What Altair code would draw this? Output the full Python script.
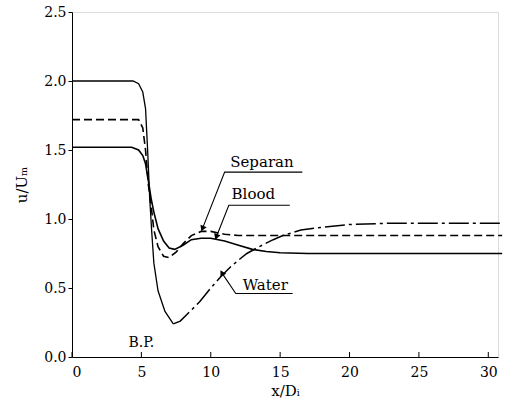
import altair as alt
import pandas as pd

# Blood (solid, starts at 1.5)
x_blood = [0, 4.3, 4.8, 5.1, 5.3, 5.5, 5.7, 5.9, 6.2, 6.6, 7.0, 7.4, 8.0, 8.6, 9.3, 10.0, 11.0, 12.0, 13.0, 14.0, 15.0, 17.0, 31.0]
y_blood = [1.52, 1.52, 1.50, 1.46, 1.40, 1.28, 1.15, 1.05, 0.93, 0.84, 0.79, 0.78, 0.81, 0.85, 0.86, 0.86, 0.84, 0.81, 0.78, 0.765, 0.755, 0.75, 0.75]

# Separan (dashed, starts at 1.72)
x_sep = [0, 4.8, 5.1, 5.3, 5.5, 5.7, 5.9, 6.2, 6.6, 7.0, 7.5, 8.0, 8.6, 9.3, 10.0, 11.0, 12.0, 31.0]
y_sep = [1.72, 1.72, 1.66, 1.50, 1.25, 1.10, 0.92, 0.80, 0.73, 0.72, 0.76, 0.82, 0.88, 0.91, 0.91, 0.89, 0.88, 0.88]

# Water (starts at 2.0): first part solid, rising part dash-dot
x_water1 = [0, 4.4, 4.8, 5.1, 5.3, 5.45, 5.6, 5.75, 5.9, 6.2, 6.7, 7.3]
y_water1 = [2.0, 2.0, 1.98, 1.92, 1.80, 1.50, 1.15, 0.90, 0.68, 0.48, 0.33, 0.24]
x_water2 = [7.3, 7.8, 8.3, 9.2, 10.0, 10.7, 11.5, 12.1, 12.6, 13.5, 14.5, 15.2, 16.5, 18.0, 20.0, 23.0, 31.0]
y_water2 = [0.24, 0.26, 0.31, 0.40, 0.50, 0.58, 0.66, 0.71, 0.75, 0.80, 0.85, 0.88, 0.92, 0.94, 0.96, 0.97, 0.97]

x_ticks = [0, 5, 10, 15, 20, 25, 30]
y_ticks = [0.0, 0.5, 1.0, 1.5, 2.0, 2.5]

# annotation leaders: tip -> elbow -> end
lab_names = ["Separan", "Blood", "Water"]
lab_tip_x = [9.4, 10.4, 10.8]
lab_tip_y = [0.93, 0.87, 0.61]
lab_elbow_x = [11.0, 11.3, 11.8]
lab_line_y = [1.34, 1.10, 0.46]
lab_end_x = [16.6, 15.7, 15.9]
lab_text_x = [11.4, 11.5, 12.3]
lab_text_y = [1.41, 1.18, 0.52]
lab_angle = [203, 200, 330]

FONT = "DejaVu Serif"

xs = alt.Scale(domain=[0, 30.7], nice=False, zero=False)
ys = alt.Scale(domain=[0, 2.5], nice=False)

def series(xv, yv):
    return pd.DataFrame({"x": xv, "y": yv, "o": list(range(len(xv)))})

X = alt.X("x:Q", scale=xs, axis=alt.Axis(values=x_ticks, title="x/Dᵢ", grid=False, format="d",
          labelFont=FONT, labelFontSize=14, titleFont=FONT, titleFontSize=15, titleFontWeight="normal",
          tickSize=0, labelPadding=8, domainColor="black", titlePadding=4, labelColor="black", titleColor="black"))
Y = alt.Y("y:Q", scale=ys, axis=alt.Axis(values=y_ticks, title="u/Uₘ", grid=False, format=".1f",
          labelFont=FONT, labelFontSize=14, titleFont=FONT, titleFontSize=15, titleFontWeight="normal",
          tickSize=4, tickColor="black", labelPadding=2, domainColor="black", titlePadding=14,
          labelColor="black", titleColor="black"))

blood = alt.Chart(series(x_blood, y_blood)).mark_line(color="black", strokeWidth=1.6).encode(x=X, y=Y, order="o:Q")
sep = alt.Chart(series(x_sep, y_sep)).mark_line(color="black", strokeWidth=1.6, strokeDash=[8, 4]).encode(x="x:Q", y="y:Q", order="o:Q")
w1 = alt.Chart(series(x_water1, y_water1)).mark_line(color="black", strokeWidth=1.3).encode(x="x:Q", y="y:Q", order="o:Q")
w2 = alt.Chart(series(x_water2, y_water2)).mark_line(color="black", strokeWidth=1.5, strokeDash=[20, 4, 3, 4]).encode(x="x:Q", y="y:Q", order="o:Q")

rows = []
for i, n in enumerate(lab_names):
    rows.append({"n": n, "x": lab_tip_x[i], "y": lab_tip_y[i], "o": 0})
    rows.append({"n": n, "x": lab_elbow_x[i], "y": lab_line_y[i], "o": 1})
    rows.append({"n": n, "x": lab_end_x[i], "y": lab_line_y[i], "o": 2})
leaders = alt.Chart(pd.DataFrame(rows)).mark_line(color="black", strokeWidth=1.1).encode(
    x="x:Q", y="y:Q", detail="n:N", order="o:Q")

tips = pd.DataFrame({"x": lab_tip_x, "y": lab_tip_y, "a": lab_angle})
arrows = alt.Chart(tips).mark_point(shape="triangle-up", filled=True, color="black", size=45, opacity=1).encode(
    x="x:Q", y="y:Q", angle=alt.Angle("a:Q", scale=None))

texts = pd.DataFrame({"x": lab_text_x, "y": lab_text_y, "t": lab_names})
labels = alt.Chart(texts).mark_text(font=FONT, fontSize=15, align="left", baseline="middle", color="black").encode(
    x="x:Q", y="y:Q", text="t:N")

bp = alt.Chart(pd.DataFrame({"x": [5.0], "y": [0.1], "t": ["B.P."]})).mark_text(
    font=FONT, fontSize=14, align="center", baseline="middle", color="black").encode(x="x:Q", y="y:Q", text="t:N")

inner_ticks = alt.Chart(pd.DataFrame({"x": x_ticks})).mark_rule(color="black", strokeWidth=1).encode(
    x="x:Q", y=alt.value(345), y2=alt.value(340))

chart = alt.layer(blood, sep, w1, w2, leaders, arrows, labels, bp, inner_ticks).properties(
    width=426, height=345, autosize="none",
    padding={"left": 72, "top": 12, "right": 10, "bottom": 48},
).configure_view(stroke="black", strokeWidth=1.2).configure(background="white")

chart.save("out.html", embed_options={"renderer": "svg", "actions": False})
